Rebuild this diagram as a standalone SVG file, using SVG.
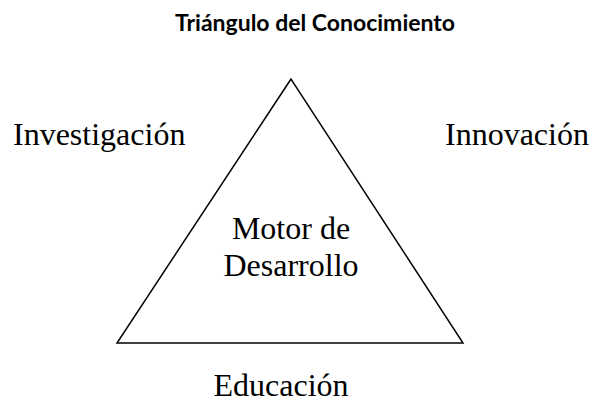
<svg xmlns="http://www.w3.org/2000/svg" width="592" height="404" viewBox="0 0 592 404">
<style>
.t{font-family:"Liberation Serif","Times New Roman",serif;font-size:32px;fill:#000}
.h{font-family:"Lato","Open Sans",sans-serif;font-weight:bold;font-size:23px;fill:#000}
</style>
<rect width="592" height="404" fill="#fff"/>
<text class="h" x="315" y="31" text-anchor="middle">Triángulo del Conocimiento</text>
<g id="connectors">
<polygon points="291,79 117,343 463,343" fill="none" stroke="#000" stroke-width="1.5"/>
</g>
<g id="investigacion"><text class="t" x="13" y="145">Investigación</text></g>
<g id="innovacion"><text class="t" x="445" y="145">Innovación</text></g>
<g id="motor"><text class="t" x="291" y="239" text-anchor="middle">Motor de</text><text class="t" x="291" y="276" text-anchor="middle">Desarrollo</text></g>
<g id="educacion"><text class="t" x="281" y="396" text-anchor="middle">Educación</text></g>
</svg>
